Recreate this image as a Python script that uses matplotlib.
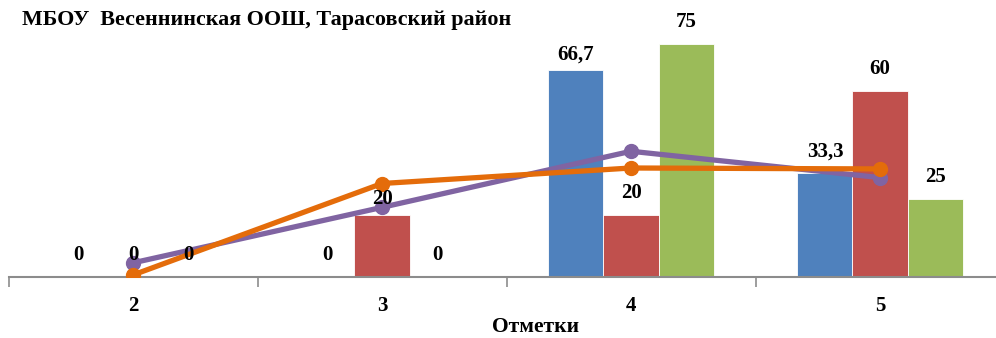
import matplotlib
matplotlib.use("Agg")
import matplotlib.pyplot as plt
import numpy as np

# ── data ─────────────────────────────────────────────────────────────────────
categories = ["2", "3", "4", "5"]
series_blue = [0, 0, 66.7, 33.3]
series_red = [0, 20, 20, 60]
series_green = [0, 0, 75, 25]
line_purple = [4.4, 22.3, 40.4, 31.9]
line_orange = [0.5, 30.0, 35.0, 34.7]

TITLE = "МБОУ  Весеннинская ООШ, Тарасовский район"
XLABEL = "Отметки"

BLUE, RED, GREEN = "#4F81BD", "#C0504D", "#9BBB59"
PURPLE, ORANGE = "#8064A2", "#E46C0A"

plt.rcParams["font.family"] = ["Liberation Serif", "DejaVu Serif"]
plt.rcParams["font.weight"] = "bold"

fig = plt.figure(figsize=(9.96, 3.38), dpi=100)
ax = fig.add_axes([8.5 / 996, 61.5 / 338, 996 / 996, 248 / 338])

x = np.arange(len(categories))
w = 0.221
bar_sets = [(series_blue, BLUE, -w), (series_red, RED, 0.0), (series_green, GREEN, w)]
for vals, col, off in bar_sets:
    bars = ax.bar(x + off, vals, width=w, color=col, edgecolor="white", linewidth=0.6, zorder=2)
    for b, v in zip(bars, vals):
        lbl = f"{v:g}".replace(".", ",")
        dy = 22
        # a couple of labels sit closer to their bar in the original
        if v == 66.7 or (v == 20 and b.get_x() < 1.5):
            dy = 15
        ax.annotate(lbl, (b.get_x() + b.get_width() / 2, v), xytext=(0, dy),
                    textcoords="offset pixels", ha="center", va="center",
                    fontsize=15, fontweight="bold", zorder=5)

ax.plot(x, line_purple, color=PURPLE, lw=3.8, marker="o", ms=10, zorder=3)
ax.plot(x, line_orange, color=ORANGE, lw=3.8, marker="o", ms=10, zorder=4)

ax.set_xlim(-0.5, 3.5)
ax.set_ylim(0, 80)
ax.set_yticks([])
for s in ["top", "right", "left"]:
    ax.spines[s].set_visible(False)
ax.spines["bottom"].set_color("#8C8C8C")
ax.spines["bottom"].set_linewidth(1.5)

ax.set_xticks(x)
ax.set_xticklabels(categories, fontsize=15, fontweight="bold")
ax.tick_params(axis="x", which="major", length=0, pad=14)
ax.set_xticks(np.arange(-0.5, 4.0, 1.0), minor=True)
ax.tick_params(axis="x", which="minor", length=7, width=1.2, color="#8C8C8C", direction="out")

fig.text(22 / 996, 1 - 20 / 338, TITLE, ha="left", va="center", fontsize=15.8, fontweight="bold")
fig.text(536 / 996, 1 - 327 / 338, XLABEL, ha="center", va="center", fontsize=15.5, fontweight="bold")

fig.savefig("out.png", dpi=100)
